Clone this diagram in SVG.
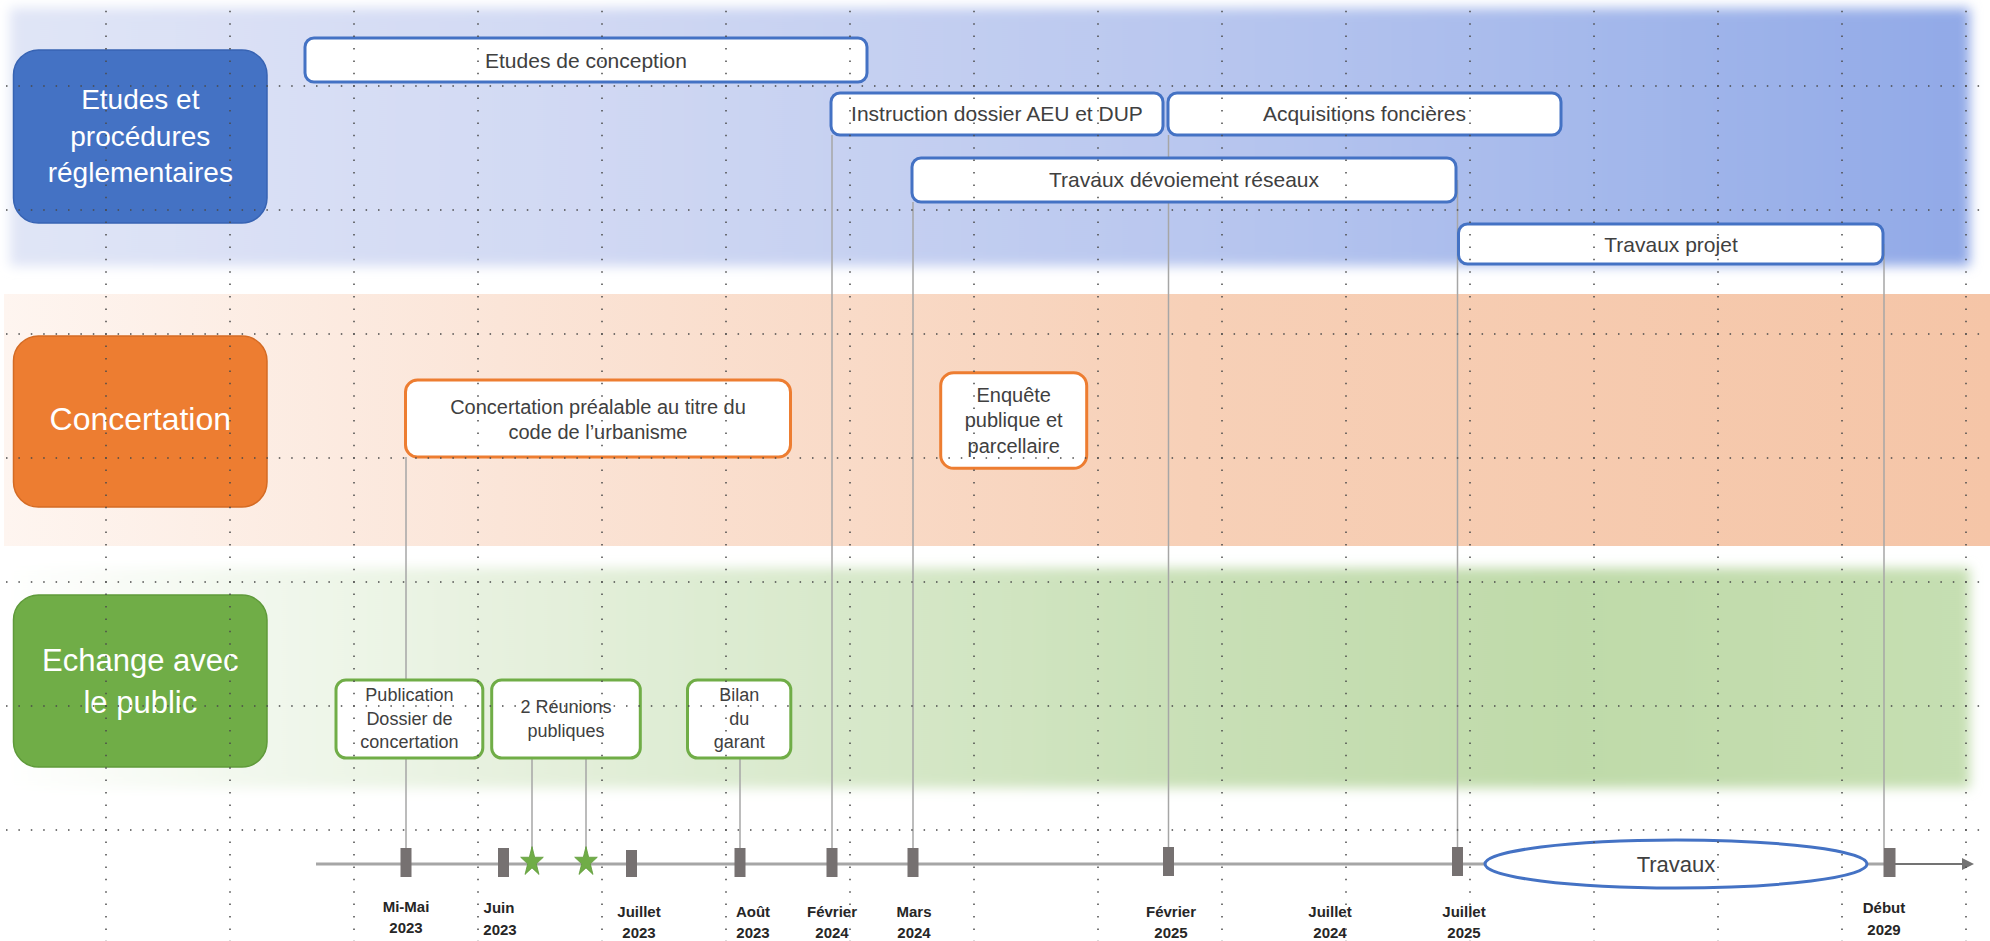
<svg xmlns="http://www.w3.org/2000/svg" width="1990" height="941" viewBox="0 0 1990 941">
<defs>
  <linearGradient id="gBlue" x1="0" y1="0" x2="1" y2="0">
    <stop offset="0" stop-color="#e0e5f6"/>
    <stop offset="0.3" stop-color="#d0d8f3"/>
    <stop offset="0.6" stop-color="#b9c7ef"/>
    <stop offset="0.85" stop-color="#a0b5ea"/>
    <stop offset="1" stop-color="#91a9e7"/>
  </linearGradient>
  <linearGradient id="gOrange" x1="0" y1="0" x2="1" y2="0">
    <stop offset="0" stop-color="#fef5f0"/>
    <stop offset="0.25" stop-color="#fbe5d8"/>
    <stop offset="0.6" stop-color="#f7d0b7"/>
    <stop offset="1" stop-color="#f5c5a7"/>
  </linearGradient>
  <linearGradient id="gGreen" x1="0" y1="0" x2="1" y2="0">
    <stop offset="0" stop-color="#ffffff"/>
    <stop offset="0.12" stop-color="#f2f8ee"/>
    <stop offset="0.35" stop-color="#deecd3"/>
    <stop offset="0.6" stop-color="#c9e0b7"/>
    <stop offset="0.8" stop-color="#bfdaa9"/>
    <stop offset="1" stop-color="#c6dfb2"/>
  </linearGradient>
  <filter id="soft" x="-2%" y="-10%" width="104%" height="120%">
    <feGaussianBlur stdDeviation="6"/>
  </filter>
  <polygon id="star" points="0,-14 3.145,-4.328 13.315,-4.326 5.088,1.653 8.229,11.326 0,5.35 -8.229,11.326 -5.088,1.653 -13.315,-4.326 -3.145,-4.328"/>
  <marker id="arrow" markerUnits="userSpaceOnUse" markerWidth="12" markerHeight="12" refX="0" refY="6" orient="auto">
    <path d="M0,0 L12,6 L0,12 z" fill="#737373"/>
  </marker>
</defs>
<style>
  .cat-t{font-family:"Liberation Sans",Arial,sans-serif;fill:#ffffff;text-anchor:middle}
  .bar{fill:#ffffff;stroke:#4472c4;stroke-width:3}
  .obox{fill:#ffffff;stroke:#ed7d31;stroke-width:3}
  .gbox{fill:#ffffff;stroke:#70ad47;stroke-width:3}
  .t{font-family:"Liberation Sans",Arial,sans-serif;fill:#404040;text-anchor:middle}
  .date{font-family:"Liberation Sans",Arial,sans-serif;font-weight:bold;font-size:15px;fill:#262626;text-anchor:middle}
  .conn{stroke:#a6a6a6;stroke-width:1.5;fill:none}
  .tick{fill:#767171}
  .gl{stroke:#4a4a4a;stroke-width:1.5;stroke-dasharray:1.5 10.9;fill:none}
</style>
<rect width="1990" height="941" fill="#ffffff"/>

<g id="bands">
  <rect x="10" y="8" width="1960" height="258" fill="url(#gBlue)" filter="url(#soft)"/>
  <rect x="4" y="294" width="1986" height="252" fill="url(#gOrange)"/>
  <rect x="0" y="568" width="1970" height="220" fill="url(#gGreen)" filter="url(#soft)"/>
</g>

<g id="connectors">
  <line class="conn" x1="832" y1="135" x2="832" y2="848"/>
  <line class="conn" x1="913" y1="202" x2="913" y2="848"/>
  <line class="conn" x1="1168.5" y1="135" x2="1168.5" y2="848"/>
  <line class="conn" x1="1457.5" y1="180" x2="1457.5" y2="848"/>
  <line class="conn" x1="1884" y1="244" x2="1884" y2="848"/>
  <line class="conn" x1="406" y1="457" x2="406" y2="848"/>
  <line class="conn" x1="532" y1="758" x2="532" y2="852"/>
  <line class="conn" x1="586" y1="758" x2="586" y2="852"/>
  <line class="conn" x1="740" y1="758" x2="740" y2="848"/>
</g>

<g id="axis">
  <line x1="316" y1="864" x2="1890" y2="864" stroke="#a6a6a6" stroke-width="3"/>
  <line x1="1890" y1="864" x2="1962" y2="864" stroke="#737373" stroke-width="2" marker-end="url(#arrow)"/>
</g>

<g id="cat-etudes">
  <rect x="13.5" y="50" width="253.5" height="173" rx="25" fill="#4472c4" stroke="#3763b3" stroke-width="1.5"/>
  <text class="cat-t" font-size="28" x="140.3" y="109">Etudes et</text>
  <text class="cat-t" font-size="28" x="140.3" y="145.5">procédures</text>
  <text class="cat-t" font-size="28" x="140.3" y="182">réglementaires</text>
</g>
<g id="cat-concertation">
  <rect x="13.5" y="336" width="253.5" height="171" rx="25" fill="#ed7d31" stroke="#d46b24" stroke-width="1.5"/>
  <text class="cat-t" font-size="32" x="140.3" y="430">Concertation</text>
</g>
<g id="cat-echange">
  <rect x="13.5" y="595" width="253.5" height="172" rx="25" fill="#70ad47" stroke="#5f9a3a" stroke-width="1.5"/>
  <text class="cat-t" font-size="31" x="140.3" y="671">Echange avec</text>
  <text class="cat-t" font-size="31" x="140.3" y="713">le public</text>
</g>

<g id="etudes-conception">
  <rect class="bar" x="305" y="38" width="562" height="44" rx="9"/>
  <text class="t" font-size="21" x="586" y="67.5">Etudes de conception</text>
</g>
<g id="instruction">
  <rect class="bar" x="831" y="93" width="332" height="42" rx="9"/>
  <text class="t" font-size="21" x="997" y="121">Instruction dossier AEU et DUP</text>
</g>
<g id="acquisitions">
  <rect class="bar" x="1168" y="93" width="393" height="42" rx="9"/>
  <text class="t" font-size="21" x="1364.5" y="121">Acquisitions foncières</text>
</g>
<g id="devoiement">
  <rect class="bar" x="912" y="158" width="544" height="44" rx="9"/>
  <text class="t" font-size="21" x="1184" y="187">Travaux dévoiement réseaux</text>
</g>
<g id="travaux-projet">
  <rect class="bar" x="1458.5" y="224" width="424.5" height="40" rx="9"/>
  <text class="t" font-size="21" x="1671" y="251.5">Travaux projet</text>
</g>

<g id="concertation-prealable">
  <rect class="obox" x="405.5" y="380" width="385" height="77" rx="12"/>
  <text class="t" font-size="20" x="598" y="414">Concertation préalable au titre du</text>
  <text class="t" font-size="20" x="598" y="438.5">code de l’urbanisme</text>
</g>
<g id="enquete">
  <rect class="obox" x="940.7" y="372.7" width="146" height="95.6" rx="13"/>
  <text class="t" font-size="20" x="1013.7" y="402">Enquête</text>
  <text class="t" font-size="20" x="1013.7" y="427">publique et</text>
  <text class="t" font-size="20" x="1013.7" y="452.5">parcellaire</text>
</g>

<g id="publication">
  <rect class="gbox" x="336" y="680" width="146.8" height="78" rx="10"/>
  <text class="t" font-size="18" x="409.4" y="701">Publication</text>
  <text class="t" font-size="18" x="409.4" y="724.5">Dossier de</text>
  <text class="t" font-size="18" x="409.4" y="748">concertation</text>
</g>
<g id="reunions">
  <rect class="gbox" x="491.7" y="680" width="148.6" height="78" rx="10"/>
  <text class="t" font-size="18" x="566" y="713">2 Réunions</text>
  <text class="t" font-size="18" x="566" y="736.5">publiques</text>
</g>
<g id="bilan">
  <rect class="gbox" x="687.5" y="680" width="103.3" height="78" rx="10"/>
  <text class="t" font-size="18" x="739.2" y="701">Bilan</text>
  <text class="t" font-size="18" x="739.2" y="724.5">du</text>
  <text class="t" font-size="18" x="739.2" y="748">garant</text>
</g>

<g id="travaux-ellipse">
  <ellipse cx="1676" cy="864" rx="191" ry="24" fill="#ffffff" stroke="#4472c4" stroke-width="3"/>
  <text class="t" font-size="22" x="1676" y="872">Travaux</text>
</g>

<g id="ticks">
  <rect class="tick" x="400.5" y="848" width="11" height="29"/>
  <rect class="tick" x="498" y="848" width="11" height="29"/>
  <rect class="tick" x="626" y="850" width="11" height="27"/>
  <rect class="tick" x="734.5" y="848" width="11" height="29"/>
  <rect class="tick" x="826.5" y="848" width="11" height="29"/>
  <rect class="tick" x="907.5" y="848" width="11" height="29"/>
  <rect class="tick" x="1163" y="847" width="11" height="29"/>
  <rect class="tick" x="1452" y="847" width="11" height="29"/>
  <rect class="tick" x="1883.5" y="848" width="12" height="29"/>
</g>

<g id="stars" fill="#70ad47" stroke="#5f9a3a" stroke-width="0.8">
  <use href="#star" transform="translate(532,862) scale(0.85,1.1)"/>
  <use href="#star" transform="translate(586,862) scale(0.85,1.1)"/>
</g>

<g id="dates">
  <text class="date" x="406" y="911.7">Mi-Mai</text><text class="date" x="406" y="933.3">2023</text>
  <text class="date" x="499" y="913">Juin</text><text class="date" x="500" y="934.5">2023</text>
  <text class="date" x="639" y="916.5">Juillet</text><text class="date" x="639" y="938">2023</text>
  <text class="date" x="753" y="916.5">Août</text><text class="date" x="753" y="938">2023</text>
  <text class="date" x="832" y="916.5">Février</text><text class="date" x="832" y="938">2024</text>
  <text class="date" x="914" y="916.5">Mars</text><text class="date" x="914" y="938">2024</text>
  <text class="date" x="1171" y="916.5">Février</text><text class="date" x="1171" y="938">2025</text>
  <text class="date" x="1330" y="916.5">Juillet</text><text class="date" x="1330" y="938">2024</text>
  <text class="date" x="1464" y="916.5">Juillet</text><text class="date" x="1464" y="938">2025</text>
  <text class="date" x="1884" y="913">Début</text><text class="date" x="1884" y="935">2029</text>
</g>

<g id="grid">
  <line class="gl" x1="6" y1="86" x2="1990" y2="86"/>
  <line class="gl" x1="6" y1="210" x2="1990" y2="210"/>
  <line class="gl" x1="6" y1="334" x2="1990" y2="334"/>
  <line class="gl" x1="6" y1="458" x2="1990" y2="458"/>
  <line class="gl" x1="6" y1="582" x2="1990" y2="582"/>
  <line class="gl" x1="6" y1="706" x2="1990" y2="706"/>
  <line class="gl" x1="6" y1="830" x2="1990" y2="830"/>
  <line class="gl" x1="106" y1="10.8" x2="106" y2="941"/>
  <line class="gl" x1="230" y1="10.8" x2="230" y2="941"/>
  <line class="gl" x1="354" y1="10.8" x2="354" y2="941"/>
  <line class="gl" x1="478" y1="10.8" x2="478" y2="941"/>
  <line class="gl" x1="602" y1="10.8" x2="602" y2="941"/>
  <line class="gl" x1="726" y1="10.8" x2="726" y2="941"/>
  <line class="gl" x1="850" y1="10.8" x2="850" y2="941"/>
  <line class="gl" x1="974" y1="10.8" x2="974" y2="941"/>
  <line class="gl" x1="1098" y1="10.8" x2="1098" y2="941"/>
  <line class="gl" x1="1222" y1="10.8" x2="1222" y2="941"/>
  <line class="gl" x1="1346" y1="10.8" x2="1346" y2="941"/>
  <line class="gl" x1="1470" y1="10.8" x2="1470" y2="941"/>
  <line class="gl" x1="1594" y1="10.8" x2="1594" y2="941"/>
  <line class="gl" x1="1718" y1="10.8" x2="1718" y2="941"/>
  <line class="gl" x1="1842" y1="10.8" x2="1842" y2="941"/>
  <line class="gl" x1="1966" y1="10.8" x2="1966" y2="941"/>
</g>
</svg>
